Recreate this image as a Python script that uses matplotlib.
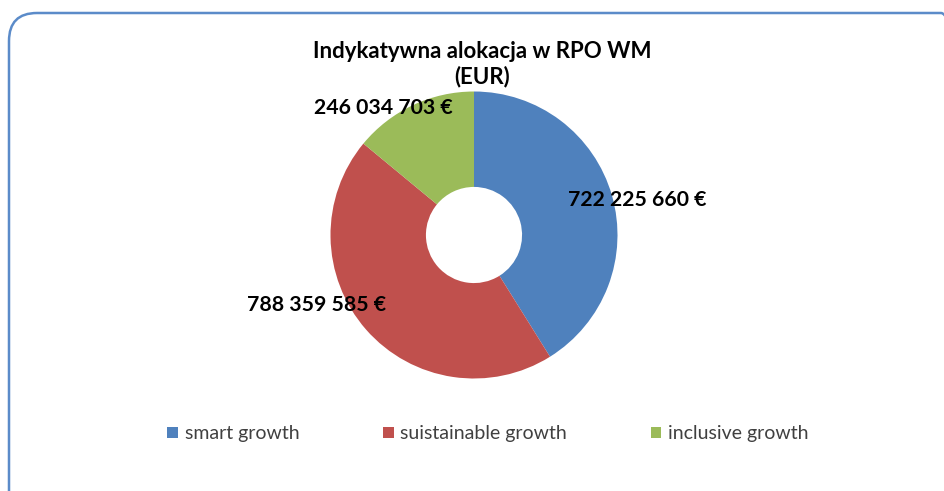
import matplotlib.pyplot as plt
from matplotlib.patches import FancyBboxPatch, Patch
import numpy as np

# data
categories = ["smart growth", "suistainable growth", "inclusive growth"]
values = [722225660, 788359585, 246034703]
labels = ["722 225 660 €", "788 359 585 €", "246 034 703 €"]
colors = ["#4F81BD", "#C0504D", "#9BBB59"]

# label placement (angle in deg, radius relative to pie radius)
label_pos = [(12, 1.16), (204, 1.2), (125.6, 1.09)]

W, H = 9.44, 4.91
fig = plt.figure(figsize=(W, H), dpi=100)
plt.rcParams['font.family'] = ['Lato', 'DejaVu Sans']

# rounded frame
frame = FancyBboxPatch((0.09, -0.3), 9.6, 4.78 + 0.3,
                       boxstyle="round,pad=0,rounding_size=0.28",
                       transform=fig.dpi_scale_trans, fill=False,
                       edgecolor="#5B8BC9", linewidth=1.8)
fig.patches.append(frame)

# pie axes centered at (474, 235) px, radius 143.5 px
cx, cy, r = 474, 235, 143.5
ax = fig.add_axes([(cx - r) / 944, (491 - cy - r) / 491, 2 * r / 944, 2 * r / 491])
ax.pie(values, colors=colors, startangle=90, counterclock=False, radius=1,
       wedgeprops=dict(width=0.665, edgecolor="none"))
ax.set_xlim(-1, 1)
ax.set_ylim(-1, 1)
ax.set_aspect("equal")
ax.axis("off")

for lab, (ang, rr) in zip(labels, label_pos):
    a = np.deg2rad(ang)
    ax.text(rr * np.cos(a), rr * np.sin(a), lab, ha="center", va="center",
            fontsize=15.3, fontweight="bold", color="black", clip_on=False)

fig.text(482 / 944, 1 - 64.5 / 491, "Indykatywna alokacja w RPO WM\n(EUR)",
         ha="center", va="center", fontsize=16, fontweight="bold",
         linespacing=1.2)

handles = [Patch(facecolor=c, edgecolor="none") for c in colors]
leg = fig.legend(handles, categories, loc="center", ncol=3,
                 bbox_to_anchor=(488 / 944, 1 - 434 / 491), frameon=False,
                 fontsize=14, handlelength=0.55, handleheight=0.55,
                 handletextpad=0.35, columnspacing=4.3)
for t in leg.get_texts():
    t.set_color("#404040")

fig.savefig("out.png", dpi=100)
